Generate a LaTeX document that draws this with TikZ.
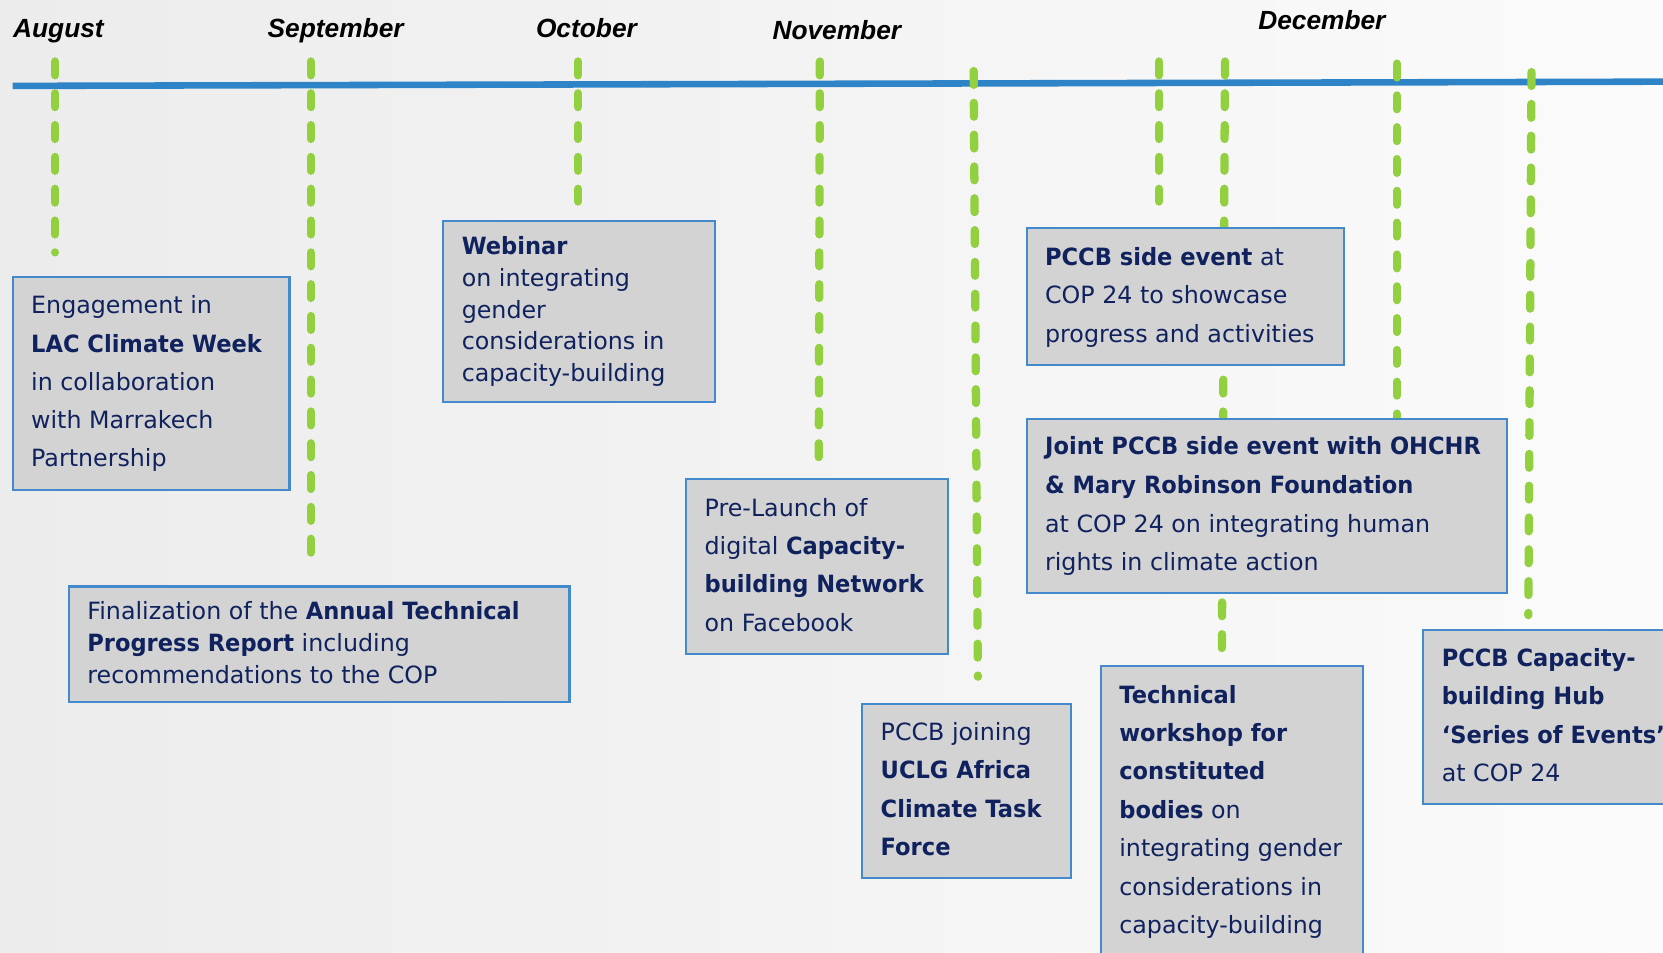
\documentclass[tikz,border=0pt]{standalone}
\usepackage{fontspec}
\setmainfont{DejaVu Sans}[BoldFeatures={FakeStretch=0.95}]
\newfontfamily\monthfont{Liberation Sans}
\definecolor{tlblue}{RGB}{46,132,198}
\definecolor{dashgreen}{RGB}{146,208,64}
\definecolor{boxblue}{RGB}{66,138,204}
\definecolor{boxgrey}{RGB}{211,211,211}
\definecolor{navytext}{RGB}{16,34,94}
\definecolor{bgleft}{RGB}{236,236,236}
\definecolor{bgright}{RGB}{251,251,251}
\newcommand\boxline[1]{\hbox{#1}}
\newcommand\boxlines[2]{\vtop{\baselineskip=#1\lineskiplimit=-20pt\relax #2}}
\tikzset{
  timeline/.style={line width=3.1pt, draw=tlblue},
  greendash/.style={line width=3.9pt, draw=dashgreen, line cap=round, dash pattern=on 6.5pt off 8.5pt},
  eventbox/.style={draw=boxblue, fill=boxgrey, line width=1pt, inner sep=0pt, anchor=north west},
  eventtext/.style={inner sep=0pt, anchor=base west, text=navytext, font=\fontsize{11.2pt}{18pt}\selectfont},
  monthlabel/.style={inner sep=0pt, anchor=base west, font=\monthfont\bfseries\itshape\fontsize{12.4pt}{14pt}\selectfont}
}
\begin{document}
\begin{tikzpicture}[x=0.5pt,y=-0.5pt]
\clip (0,0) rectangle (1568,898);
\fill[left color=bgleft, right color=bgright] (0,0) rectangle (1568,898);

% month labels
\node[monthlabel] (mAug) at (12,35.5) {August};
\node[monthlabel] (mSep) at (252,35.5) {September};
\node[monthlabel] (mOct) at (505,35.5) {October};
\node[monthlabel] (mNov) at (728,37) {November};
\node[monthlabel] (mDec) at (1186,27.5) {December};

% timeline
\coordinate (tlstart) at (12,81);
\coordinate (tlend) at (1568,77);
\draw[timeline] (tlstart) -- (tlend);

% dashed markers
\coordinate (g1t) at (52,58);    \coordinate (g1b) at (52,238);
\coordinate (g2t) at (293,58);   \coordinate (g2b) at (293,523);
\coordinate (g3t) at (545,58);   \coordinate (g3b) at (545,190);
\coordinate (g4t) at (773,58);   \coordinate (g4b) at (772,433);
\coordinate (g5t) at (918,67);   \coordinate (g5b) at (922,638);
\coordinate (g6t) at (1093,58);  \coordinate (g6b) at (1093,190);
\coordinate (g7t) at (1155,58);  \coordinate (g7b) at (1152,627);
\coordinate (g8t) at (1317,60);  \coordinate (g8b) at (1317,394);
\coordinate (g9t) at (1444,68);  \coordinate (g9b) at (1441,580);
\foreach \i in {1,...,9}{\draw[greendash] (g\i t) -- (g\i b);}

% boxes
\node[eventbox, minimum width=130.5pt, minimum height=100.5pt] (bA) at (11,260) {};
\node[eventbox, minimum width=236pt, minimum height=54.5pt] (bB) at (64,552) {};
\node[eventbox, minimum width=128pt, minimum height=85.5pt] (bC) at (417,207) {};
\node[eventbox, minimum width=123.5pt, minimum height=82.5pt] (bD) at (646,451) {};
\node[eventbox, minimum width=98.5pt, minimum height=82pt] (bE) at (812,663) {};
\node[eventbox, minimum width=149.5pt, minimum height=64.5pt] (bF) at (967,214) {};
\node[eventbox, minimum width=226.5pt, minimum height=82pt] (bG) at (967,394) {};
\node[eventbox, minimum width=123.5pt, minimum height=144pt] (bH) at (1037,627) {};
\node[eventbox, minimum width=122pt, minimum height=82pt] (bI) at (1341,593) {};

% texts
\node[eventtext] (tA) at (29,296) {\boxlines{18pt}{%
  \boxline{Engagement in}\boxline{\textbf{LAC Climate Week}}\boxline{in collaboration}%
  \boxline{with Marrakech}\boxline{Partnership}}};
\node[eventtext] (tB) at (82,584) {\boxlines{15pt}{%
  \boxline{Finalization of the \textbf{Annual Technical}}%
  \boxline{\textbf{Progress Report} including}\boxline{recommendations to the COP}}};
\node[eventtext] (tC) at (435,240) {\boxlines{15pt}{%
  \boxline{\textbf{Webinar}}\boxline{on integrating}\boxline{gender}%
  \boxline{considerations in}\boxline{capacity-building}}};
\node[eventtext] (tD) at (664,487) {\boxlines{18pt}{%
  \boxline{Pre-Launch of}\boxline{digital \textbf{Capacity-}}%
  \boxline{\textbf{building Network}}\boxline{on Facebook}}};
\node[eventtext] (tE) at (830,698) {\boxlines{18.1pt}{%
  \boxline{PCCB joining}\boxline{\textbf{UCLG Africa}}%
  \boxline{\textbf{Climate Task}}\boxline{\textbf{Force}}}};
\node[eventtext] (tF) at (985,250) {\boxlines{18.2pt}{%
  \boxline{\textbf{PCCB side event} at}\boxline{COP 24 to showcase}%
  \boxline{progress and activities}}};
\node[eventtext] (tG) at (985,429) {\boxlines{18.2pt}{%
  \boxline{\textbf{Joint PCCB side event with OHCHR}}%
  \boxline{\textbf{\& Mary Robinson Foundation}}%
  \boxline{at COP 24 on integrating human}\boxline{rights in climate action}}};
\node[eventtext] (tH) at (1055,663) {\boxlines{18.1pt}{%
  \boxline{\textbf{Technical}}\boxline{\textbf{workshop for}}\boxline{\textbf{constituted}}%
  \boxline{\textbf{bodies} on}\boxline{integrating gender}%
  \boxline{considerations in}\boxline{capacity-building}}};
\node[eventtext] (tI) at (1359,628) {\boxlines{18.2pt}{%
  \boxline{\textbf{PCCB Capacity-}}\boxline{\textbf{building Hub}}%
  \boxline{\textbf{‘Series of Events’}}\boxline{at COP 24}}};
\end{tikzpicture}
\end{document}
